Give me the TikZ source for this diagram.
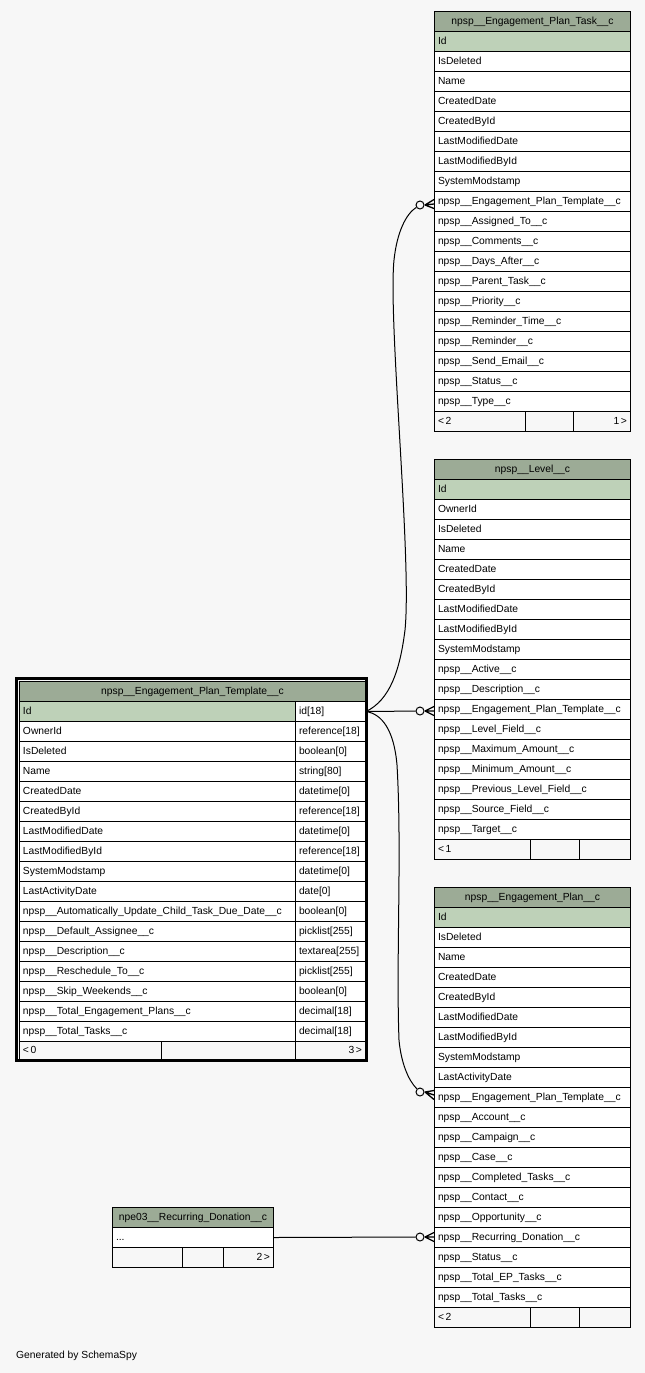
\documentclass[tikz,border=0pt]{standalone}
\usepackage{fontspec}
\setmainfont{Liberation Sans}
\usetikzlibrary{calc}
\definecolor{bgcol}{RGB}{247,247,247}
\definecolor{hdrcol}{RGB}{156,171,150}
\definecolor{keycol}{RGB}{190,209,184}
\newcommand\tblfont{\fontsize{10.3}{12}\selectfont}
\begin{document}
\begin{tikzpicture}[x=1pt,y=-1pt,
  cell/.style={draw=black, line width=1pt, anchor=north west, inner xsep=3.5pt, inner ysep=0pt, minimum height=20pt, text height=7.5pt, text depth=2.5pt, align=left, font=\tblfont, fill=white},
  rcell/.style={cell, align=right},
  hdr/.style={draw=black, line width=1pt, anchor=north west, inner sep=0pt, minimum height=20pt, text height=7.5pt, text depth=2.5pt, font=\tblfont, fill=hdrcol},
  foot/.style={cell, fill=bgcol},
  rfoot/.style={rcell, fill=bgcol},
  zcirc/.style={circle, draw=black, line width=1pt, fill=bgcol, minimum size=8pt, inner sep=0pt},
  conn/.style={draw=black, line width=1pt},
  crow/.style={draw=black, line width=1.3pt}
]
\fill[bgcol] (0,0) rectangle (645,1373);
\useasboundingbox (0,0) rectangle (645,1373);

% ---------- npsp__Engagement_Plan_Task__c
\node[hdr, minimum width=196pt] (tk) at (434,11) {npsp\_\_Engagement\_Plan\_Task\_\_c};
\node[cell, fill=keycol, text width=189pt] (tk-0) at (434,31) {Id};
\foreach \t [count=\i] in {IsDeleted,Name,CreatedDate,CreatedById,LastModifiedDate,LastModifiedById,SystemModstamp,npsp\_\_Engagement\_Plan\_Template\_\_c,npsp\_\_Assigned\_To\_\_c,npsp\_\_Comments\_\_c,npsp\_\_Days\_After\_\_c,npsp\_\_Parent\_Task\_\_c,npsp\_\_Priority\_\_c,npsp\_\_Reminder\_Time\_\_c,npsp\_\_Reminder\_\_c,npsp\_\_Send\_Email\_\_c,npsp\_\_Status\_\_c,npsp\_\_Type\_\_c}
  \node[cell, text width=189pt] (tk-\i) at (434,{31+20*\i}) {\t};
\node[foot, text width=84pt] (tkf1) at (434,411) {<\,2};
\node[foot, text width=41pt] (tkf2) at (525,411) {};
\node[rfoot, text width=50pt] (tkf3) at (573,411) {1\,>};

% ---------- npsp__Level__c
\node[hdr, minimum width=196pt] (lv) at (434,459) {npsp\_\_Level\_\_c};
\node[cell, fill=keycol, text width=189pt] (lv-0) at (434,479) {Id};
\foreach \t [count=\i] in {OwnerId,IsDeleted,Name,CreatedDate,CreatedById,LastModifiedDate,LastModifiedById,SystemModstamp,npsp\_\_Active\_\_c,npsp\_\_Description\_\_c,npsp\_\_Engagement\_Plan\_Template\_\_c,npsp\_\_Level\_Field\_\_c,npsp\_\_Maximum\_Amount\_\_c,npsp\_\_Minimum\_Amount\_\_c,npsp\_\_Previous\_Level\_Field\_\_c,npsp\_\_Source\_Field\_\_c,npsp\_\_Target\_\_c}
  \node[cell, text width=189pt] (lv-\i) at (434,{479+20*\i}) {\t};
\node[foot, text width=89pt] (lvf1) at (434,839) {<\,1};
\node[foot, text width=42pt] (lvf2) at (530,839) {};
\node[rfoot, text width=44pt] (lvf3) at (579,839) {};

% ---------- npsp__Engagement_Plan__c
\node[hdr, minimum width=196pt] (ep) at (434,887) {npsp\_\_Engagement\_Plan\_\_c};
\node[cell, fill=keycol, text width=189pt] (ep-0) at (434,907) {Id};
\foreach \t [count=\i] in {IsDeleted,Name,CreatedDate,CreatedById,LastModifiedDate,LastModifiedById,SystemModstamp,LastActivityDate,npsp\_\_Engagement\_Plan\_Template\_\_c,npsp\_\_Account\_\_c,npsp\_\_Campaign\_\_c,npsp\_\_Case\_\_c,npsp\_\_Completed\_Tasks\_\_c,npsp\_\_Contact\_\_c,npsp\_\_Opportunity\_\_c,npsp\_\_Recurring\_Donation\_\_c,npsp\_\_Status\_\_c,npsp\_\_Total\_EP\_Tasks\_\_c,npsp\_\_Total\_Tasks\_\_c}
  \node[cell, text width=189pt] (ep-\i) at (434,{907+20*\i}) {\t};
\node[foot, text width=89pt] (epf1) at (434,1307) {<\,2};
\node[foot, text width=42pt] (epf2) at (530,1307) {};
\node[rfoot, text width=44pt] (epf3) at (579,1307) {};

% ---------- npe03__Recurring_Donation__c
\node[hdr, minimum width=161pt] (rd) at (112,1207) {npe03\_\_Recurring\_Donation\_\_c};
\node[cell, text width=154pt] (rd-0) at (112,1227) {...};
\node[foot, text width=63pt] (rdf1) at (112,1247) {};
\node[foot, text width=34pt] (rdf2) at (182,1247) {};
\node[rfoot, text width=43pt] (rdf3) at (223,1247) {2\,>};

% ---------- npsp__Engagement_Plan_Template__c (focus table)
\node[hdr, minimum width=346pt] (pt) at (19,681) {npsp\_\_Engagement\_Plan\_Template\_\_c};
\node[cell, fill=keycol, text width=269pt] (pt-0) at (19,701) {Id};
\node[cell, text width=63pt] (pt-t0) at (295,701) {id[18]};
\foreach \t/\u [count=\i] in {OwnerId/reference[18],IsDeleted/boolean[0],Name/string[80],CreatedDate/datetime[0],CreatedById/reference[18],LastModifiedDate/datetime[0],LastModifiedById/reference[18],SystemModstamp/datetime[0],LastActivityDate/date[0],npsp\_\_Automatically\_Update\_Child\_Task\_Due\_Date\_\_c/boolean[0],npsp\_\_Default\_Assignee\_\_c/picklist[255],npsp\_\_Description\_\_c/textarea[255],npsp\_\_Reschedule\_To\_\_c/picklist[255],npsp\_\_Skip\_Weekends\_\_c/boolean[0],npsp\_\_Total\_Engagement\_Plans\_\_c/decimal[18],npsp\_\_Total\_Tasks\_\_c/decimal[18]}
  {\node[cell, text width=269pt] (pt-\i) at (19,{701+20*\i}) {\t};
   \node[cell, text width=63pt] (pt-t\i) at (295,{701+20*\i}) {\u};}
\node[foot, text width=135pt, minimum height=19pt] (ptf1) at (19,1041) {<\,0};
\node[foot, text width=127pt, minimum height=19pt] (ptf2) at (161,1041) {};
\node[rfoot, text width=63pt, minimum height=19pt] (ptf3) at (295,1041) {3\,>};
\draw[line width=3pt] (16.5,678.5) rectangle (366.5,1060.5);

% ---------- relationship markers
\node[zcirc] (c1) at (420,205) {};
\node[zcirc] (c2) at (420,711) {};
\node[zcirc] (c3) at (420,1092) {};
\node[zcirc] (c4) at (420,1237) {};
\coordinate (k1) at (434,204);
\coordinate (k2) at (434,711);
\coordinate (k3) at (434,1095);
\coordinate (k4) at (434,1237);
\foreach \c/\k in {c1/k1,c2/k2,c3/k3,c4/k4}
  \draw[crow] ($(\c.east)+(0.5,0)$) -- ($(\k)+(0,-4.5)$)
              ($(\c.east)+(0.5,0)$) -- (\k)
              ($(\c.east)+(0.5,0)$) -- ($(\k)+(0,4.5)$);

% ---------- connectors
\draw[conn] (pt-t0.east) .. controls (390,700) and (400,670) .. (405,630)
            .. controls (412,560) and (388,320) .. (394,260)
            .. controls (397,232) and (406,214) .. (c1);
\draw[conn] (pt-t0.east) -- (c2);
\draw[conn] (pt-t0.east) .. controls (382,714) and (394,730) .. (397,765)
            .. controls (402,850) and (396,960) .. (399,1040)
            .. controls (401,1062) and (408,1080) .. (c3);
\draw[conn] (rd-0.east) -- (c4);

\node[anchor=west, inner sep=0pt, font=\tblfont] (gen) at (16,1356) {Generated by SchemaSpy};
\end{tikzpicture}
\end{document}
